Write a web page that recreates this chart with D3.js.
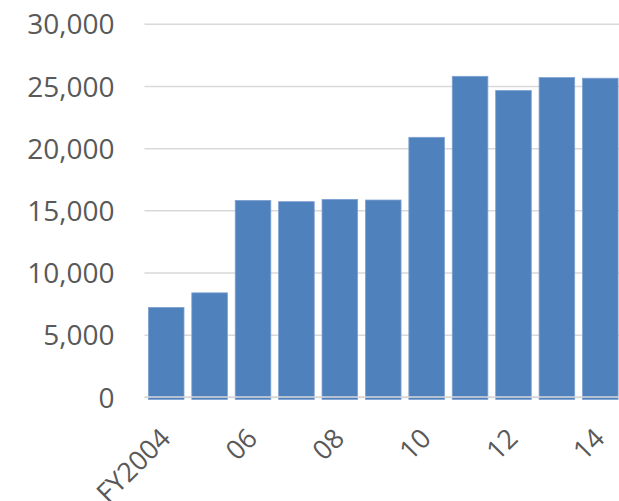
<!DOCTYPE html>
<html>
<head>
<meta charset="utf-8">
<script src="https://cdn.jsdelivr.net/npm/d3@7"></script>
<style>
  html, body { margin: 0; padding: 0; background: #fff; overflow: hidden; }
  text { font-family: "Open Sans", sans-serif; fill: #595959; }
</style>
</head>
<body>
<div id="chart"></div>
<script>
// fiscal years and values
const years = ["FY2004", "05", "06", "07", "08", "09", "10", "11", "12", "13", "14"];
const values = [7200, 8370, 15800, 15700, 15880, 15830, 20870, 25770, 24630, 25670, 25620];
const shownLabels = ["FY2004", "06", "08", "10", "12", "14"];
const yTicks = [0, 5000, 10000, 15000, 20000, 25000, 30000];

const width = 619;
const height = 501;
const plotLeft = 144.5;
const plotTop = 23.7;
const plotBottom = 397;

const svg = d3.select('#chart')
    .append('svg')
    .attr('width', width)
    .attr('height', height);

const x = d3.scaleBand()
    .domain(years)
    .range([plotLeft, 622])
    .paddingInner(0.18)
    .paddingOuter(0.09);

const y = d3.scaleLinear()
    .domain([0, 30000])
    .range([plotBottom, plotTop]);

// gridlines + labels
const yAxis = svg.append('g')
    .attr('transform', `translate(${plotLeft},0)`)
    .call(d3.axisLeft(y)
        .tickValues(yTicks)
        .tickFormat(d3.format(','))
        .tickSize(-(width - plotLeft))
        .tickPadding(30));

yAxis.select('.domain').remove();
yAxis.selectAll('.tick line')
    .attr('stroke', '#d9d9d9')
    .attr('stroke-width', 1.5);
yAxis.selectAll('.tick text')
    .attr('dy', '0.36em')
    .style('font-size', '28px')
    .style('fill', '#595959');

svg.selectAll('.bar')
    .data(values)
    .enter()
    .append('rect')
    .attr('class', 'bar')
    .attr('x', (d, i) => x(years[i]))
    .attr('y', d => y(d))
    .attr('width', x.bandwidth())
    .attr('height', d => y(0) - y(d) + 2.5)
    .attr('fill', '#4f81bd')
    .attr('stroke', '#7fa1d2')
    .attr('stroke-width', 0.8);

// axis line sits over the bar feet
svg.append('line')
    .attr('x1', plotLeft)
    .attr('x2', width)
    .attr('y1', y(0))
    .attr('y2', y(0))
    .attr('stroke', '#d9d9d9')
    .attr('stroke-width', 1.5);

svg.selectAll('.xlabel')
    .data(shownLabels)
    .enter()
    .append('text')
    .attr('class', 'xlabel')
    .attr('text-anchor', 'end')
    .attr('transform', d => `translate(${x(d) + x.bandwidth() / 2 + 6},440) rotate(-45)`)
    .style('font-size', '27px')
    .text(d => d);
</script>
</body>
</html>
